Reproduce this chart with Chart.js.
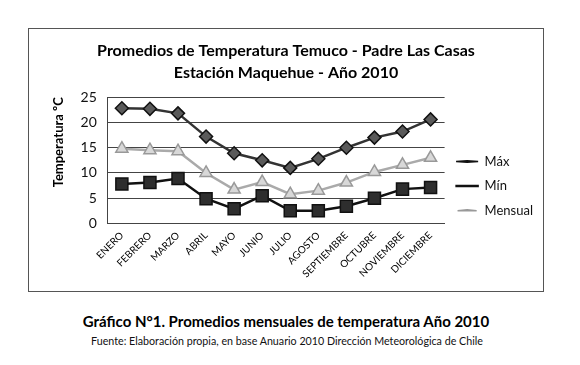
<!DOCTYPE html>
<html>
<head>
<meta charset="utf-8">
<script src="https://cdn.jsdelivr.net/npm/chart.js@4.4.0/dist/chart.umd.min.js"></script>
<style>
  body { margin: 0; background: #fff; width: 580px; height: 365px; position: relative; font-family: Lato, sans-serif; }
  #frame { position: absolute; left: 28px; top: 28px; width: 514px; height: 262px; border: 1px solid #555; }
  #caption { position: absolute; left: 0; width: 572px; top: 312px; text-align: center; font-weight: bold; font-size: 15px; color: #000; }
  #source { position: absolute; left: 0; width: 574px; top: 334px; text-align: center; font-size: 10.7px; color: #111; }
</style>
</head>
<body>
<div id="frame"><canvas id="chart" width="514" height="262"></canvas></div>
<div id="caption">Gráfico N°1. Promedios mensuales de temperatura Año 2010</div>
<div id="source">Fuente: Elaboración propia, en base Anuario 2010 Dirección Meteorológica de Chile</div>
<script>
// months and monthly averages (ºC)
var meses = ['ENERO', 'FEBRERO', 'MARZO', 'ABRIL', 'MAYO', 'JUNIO', 'JULIO', 'AGOSTO', 'SEPTIEMBRE', 'OCTUBRE', 'NOVIEMBRE', 'DICIEMBRE'];
var maxima = [22.8, 22.7, 21.8, 17.2, 13.9, 12.5, 11.0, 12.8, 15.0, 17.0, 18.2, 20.6];
var minima = [7.8, 8.1, 8.9, 4.9, 2.9, 5.5, 2.5, 2.5, 3.4, 5.0, 6.8, 7.1];
var mensual = [14.8, 14.5, 14.3, 10.0, 6.7, 8.2, 5.8, 6.5, 8.1, 10.2, 11.6, 13.0];
var yTicks = [0, 5, 10, 15, 20, 25];

// where the middle legend item sits (canvas y)
var legendMiddle = 163;

// moves the legend down a bit and draws a short line through each marker
var legendLines = {
    id: 'legendLines',
    afterLayout: function(chart) {
        var legend = chart.legend;
        var dy = legendMiddle - 6 - (legend.top + legend.bottom) / 2;
        legend.top += dy;
        legend.bottom += dy;
        legend.adjustHitBoxes();
    },
    afterDraw: function(chart) {
        var legend = chart.legend;
        if (!legend || !legend.legendHitBoxes) return;
        var ctx = chart.ctx;
        legend.legendHitBoxes.forEach(function(box, i) {
            var ds = chart.data.datasets[i];
            var y = box.top + box.height / 2;
            var cx = box.left + 11;
            ctx.save();
            ctx.strokeStyle = ds.borderColor;
            ctx.lineWidth = ds.borderWidth;
            ctx.beginPath();
            ctx.moveTo(box.left, y);
            ctx.lineTo(box.left + 22, y);
            ctx.stroke();
            // marker again on top of the line
            ctx.fillStyle = ds.pointBackgroundColor;
            ctx.strokeStyle = ds.pointBorderColor;
            ctx.lineWidth = 1;
            Chart.helpers.drawPoint(ctx, { pointStyle: ds.pointStyle, radius: 4, rotation: 0, borderWidth: 1 }, cx, y);
            ctx.restore();
        });
    }
};

var ctx = document.getElementById('chart').getContext('2d');
var chart = new Chart(ctx, {
    type: 'line',
    data: {
        labels: meses,
        datasets: [{
            label: 'Máx',
            data: maxima,
            borderColor: '#333',
            borderWidth: 2.5,
            pointStyle: 'rectRot',
            pointRadius: 6.5,
            pointBackgroundColor: '#5a5a5a',
            pointBorderColor: '#111',
            pointBorderWidth: 1.5,
            tension: 0
        }, {
            label: 'Mín',
            data: minima,
            borderColor: '#111',
            borderWidth: 2.5,
            pointStyle: 'rect',
            pointRadius: 8.5,
            pointBackgroundColor: '#2e2e2e',
            pointBorderColor: '#111',
            pointBorderWidth: 1.5,
            tension: 0
        }, {
            label: 'Mensual',
            data: mensual,
            borderColor: '#aaa',
            borderWidth: 2.5,
            pointStyle: 'triangle',
            pointRadius: 7,
            pointBackgroundColor: '#d8d8d8',
            pointBorderColor: '#999',
            pointBorderWidth: 1.5,
            tension: 0
        }]
    },
    options: {
        responsive: false,
        animation: false,
        layout: { padding: { left: 0, right: 0, top: 6, bottom: 5 } },
        plugins: {
            title: {
                display: true,
                text: ['Promedios de Temperatura Temuco - Padre Las Casas', 'Estación Maquehue - Año 2010'],
                color: '#000',
                font: { family: 'Lato', size: 16, weight: 'bold', lineHeight: 1.35 },
                padding: { top: 5, bottom: 14 }
            },
            legend: {
                position: 'right',
                align: 'center',
                labels: {
                    usePointStyle: true,
                    pointStyleWidth: 22,
                    boxHeight: 1,
                    color: '#111',
                    font: { family: 'Lato', size: 13 },
                    padding: 11.5
                }
            },
            tooltip: { enabled: false }
        },
        scales: {
            x: {
                offset: true,
                grid: { display: false, drawTicks: false },
                border: { display: true, color: '#444' },
                ticks: {
                    minRotation: 45, maxRotation: 45,
                    color: '#000',
                    font: { family: 'Lato', size: 10 },
                    padding: 6
                }
            },
            y: {
                min: 0, max: 25,
                afterBuildTicks: function(axis) {
                    axis.ticks = yTicks.map(function(v) { return { value: v }; });
                },
                grid: { color: '#444', drawTicks: false },
                border: { display: true, color: '#444' },
                ticks: {
                    color: '#111',
                    font: { family: 'Lato', size: 14 },
                    padding: 11
                },
                title: {
                    display: true,
                    text: 'Temperatura ºC',
                    align: 'end',
                    color: '#000',
                    font: { family: 'Lato', size: 13, weight: 'bold' },
                    padding: { top: 22, bottom: 3 }
                }
            }
        }
    },
    plugins: [legendLines]
});
</script>
</body>
</html>
